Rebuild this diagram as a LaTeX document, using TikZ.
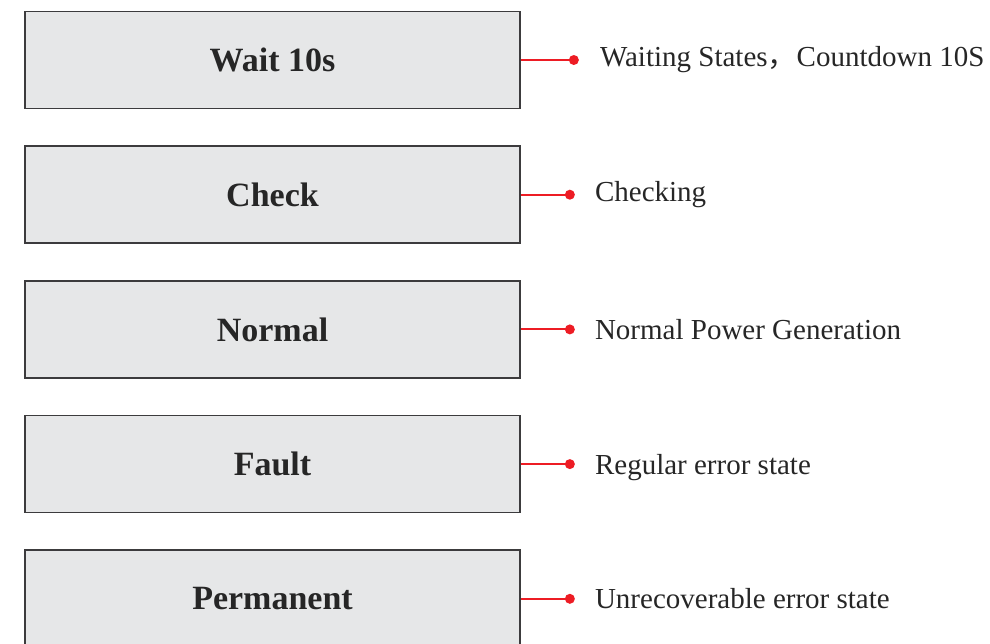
\documentclass[tikz,border=0pt]{standalone}
\usepackage{fontspec}
\setmainfont{Liberation Serif}
\newfontfamily\cjk{Noto Sans CJK SC}
\usetikzlibrary{positioning}
\definecolor{boxgray}{RGB}{230, 231, 232}
\definecolor{boxedge}{RGB}{60, 59, 61}
\definecolor{pinred}{RGB}{237, 28, 36}

\begin{document}
\begin{tikzpicture}[x=1pt, y=1pt,
    statebox/.style={draw=boxedge, fill=boxgray, line width=1.7pt, minimum width=495pt, minimum height=97pt, inner sep=0pt, font=\fontsize{34}{40}\selectfont\bfseries, text=black!85},
    desc/.style={anchor=mid west, inner sep=0pt, font=\fontsize{29}{34}\selectfont, text=black!85},
    pin/.style={draw=pinred, line width=2pt},
    node distance=36pt]
  \useasboundingbox (0,0) rectangle (990,-643);
  % state boxes
  \node[statebox] (wait) at (272.5,-60) {Wait 10s};
  \node[statebox, below=of wait] (check) {Check};
  \node[statebox, below=of check] (normal) {Normal};
  \node[statebox, below=of normal] (fault) {Fault};
  \node[statebox, below=of fault] (perm) {Permanent};
  % red pins and descriptions
  \coordinate[right=53pt of wait.east] (waitdot);
  \coordinate[right=49pt of check.east] (checkdot);
  \coordinate[right=49pt of normal.east] (normaldot);
  \coordinate[right=49pt of fault.east] (faultdot);
  \coordinate[right=49pt of perm.east] (permdot);
  \foreach \s in {wait, check, normal, fault, perm} {
    \draw[pin] (\s.east) -- (\s dot);
    \fill[pinred] (\s dot) circle (5pt);
  }
  \node[desc, right=26pt of waitdot] (waittxt) {Waiting States{\cjk ，}Countdown 10S};
  \node[desc, right=25pt of checkdot] (checktxt) {Checking};
  \node[desc, right=25pt of normaldot] (normaltxt) {Normal Power Generation};
  \node[desc, right=25pt of faultdot, yshift=-3pt] (faulttxt) {Regular error state};
  \node[desc, right=25pt of permdot] (permtxt) {Unrecoverable error state};
\end{tikzpicture}
\end{document}
